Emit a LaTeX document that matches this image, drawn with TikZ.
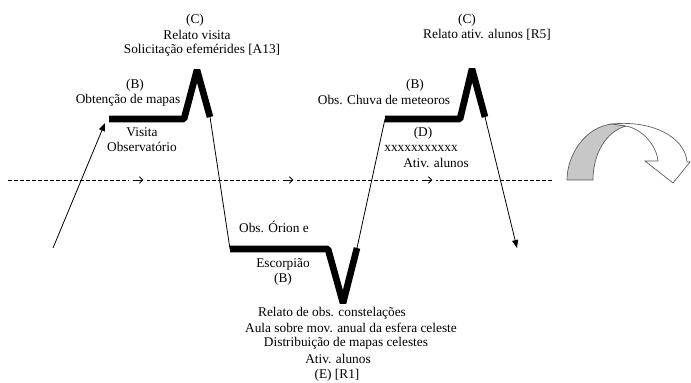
\documentclass[tikz,border=0pt]{standalone}
\usepackage{fontspec}
\setmainfont{Liberation Serif}
\usetikzlibrary{arrows.meta}

\tikzset{
  txt/.style={inner sep=0.75pt, align=center, font=\fontsize{10}{11.25}\selectfont},
  thickpath/.style={line width=5pt, line join=bevel},
  thinpath/.style={line width=0.6pt},
  tiparrow/.style={thinpath, -{Triangle[length=6pt,width=4.5pt]}},
  timeline/.style={line width=0.5pt, dash pattern=on 3pt off 1.5pt},
  gapnode/.style={fill=white, inner sep=0pt, minimum width=13.5pt, minimum height=5pt},
  smallarrow/.style={line width=0.6pt, shorten <=3pt, shorten >=3pt, -{Straight Barb[length=2.5pt,width=5pt]}},
}

\begin{document}
\begin{tikzpicture}[x=0.75pt,y=0.75pt,yscale=-1,xscale=1]
\useasboundingbox (0,0) rectangle (691,382);

% points of the path
\coordinate (s0) at (53,248);
\coordinate (t1) at (105,123);
\coordinate (a1) at (109,119);
\coordinate (a2) at (184,119);
\coordinate (a3) at (197,70);
\coordinate (a4) at (210,117);
\coordinate (b1) at (230,249);
\coordinate (b2) at (328,249);
\coordinate (b3) at (343,303);
\coordinate (b4) at (357,248);
\coordinate (c1) at (385,119);
\coordinate (c2) at (460,119);
\coordinate (c3) at (472,69);
\coordinate (c4) at (485,117);
\coordinate (e0) at (517,248);

%Dashed line
\coordinate (d0) at (8,180);
\coordinate (d1) at (553,180);
\draw [timeline] (d0) -- (d1) ;
\node [gapnode] (r1) at (138,180) {};
\node [gapnode] (r2) at (288,180) {};
\node [gapnode] (r3) at (427,180) {};
\draw [smallarrow] (r1.west) -- (r1.east) ;
\draw [smallarrow] (r2.west) -- (r2.east) ;
\draw [smallarrow] (r3.west) -- (r3.east) ;

%Straight Lines
\draw [tiparrow] (s0) -- (t1) ;
\draw [thickpath] (a1) -- (a2) -- (a3) -- (a4) ;
\draw [thinpath] (a4) -- (b1) ;
\draw [thickpath] (b1) -- (b2) -- (b3) -- (b4) ;
\draw [thinpath] (b4) -- (c1) ;
\draw [thickpath] (c1) -- (c2) -- (c3) -- (c4) ;
\draw [tiparrow] (c4) -- (e0) ;

%Shape: curved arrow
\draw [draw=black!65, line width=0.5pt, fill=black!22] (567,180) .. controls (567,155) and (585,127) .. (612,124) -- (626,126) .. controls (605,132) and (593,155) .. (593,180) -- cycle ;
\draw [draw=black!65, line width=0.5pt, fill=white] (612,124) .. controls (650,120) and (685,136) .. (687,162) -- (690,162) -- (673,183) -- (645,161) -- (658,161) .. controls (657,148) and (645,130) .. (626,126) -- cycle ;

% Text Node
\node [txt] (c1top) at (195,20) {(C)};
\node [txt] (c1mid) at (197,35) {Relato visita};
\node [txt] (c1bot) at (202,50) {Solicitação efemérides [A13]};
% Text Node
\node [txt] (b1top) at (135,85) {(B)};
\node [txt] (b1bot) at (128,100) {Obtenção de mapas};
% Text Node
\node [txt] (visita) at (142,139.5) {Visita\\Observatório};
% Text Node
\node [txt] (orion) at (274,227) {Obs. Órion e};
\node [txt] (escorp) at (283,271.5) {Escorpião\\(B)};
% Text Node
\node [txt] (e1) at (332,313) {Relato de obs. constelações};
\node [txt] (e2) at (351,328) {Aula sobre mov. anual da esfera celeste};
\node [txt] (e3) at (346,343) {Distribuição de mapas celestes};
\node [txt] (e4) at (338,359) {Ativ. alunos};
\node [txt] (e5) at (337,375) {(E) [R1]};
% Text Node
\node [txt] (b2top) at (415,85) {(B)};
\node [txt] (b2bot) at (384,100) {Obs. Chuva de meteoros};
% Text Node
\node [txt] (d2top) at (423,133) {(D)};
\node [txt] (d2mid) at (421,148) {xxxxxxxxxxx};
\node [txt] (d2bot) at (436,163) {Ativ. alunos};
% Text Node
\node [txt] (c2top) at (467,20) {(C)};
\node [txt] (c2bot) at (487,35) {Relato ativ. alunos [R5]};

\end{tikzpicture}
\end{document}
